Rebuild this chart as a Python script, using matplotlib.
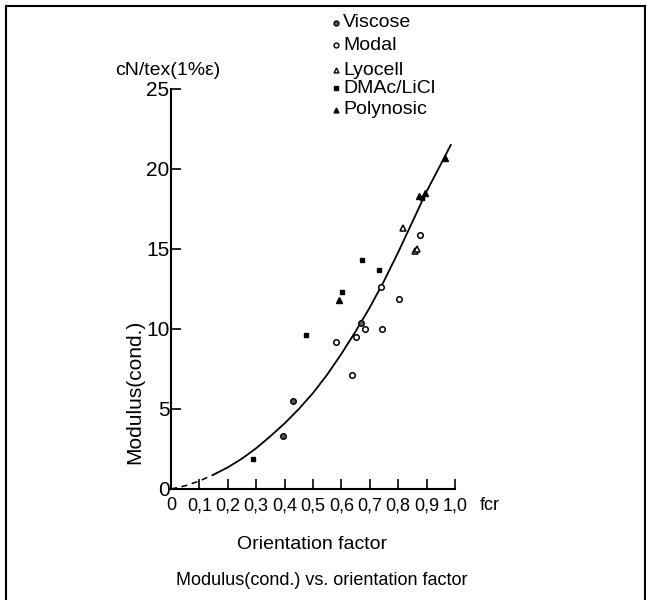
import matplotlib
matplotlib.use("Agg")
import matplotlib.pyplot as plt
from matplotlib.lines import Line2D

plt.rcParams['font.family'] = ['Liberation Sans', 'DejaVu Sans']

# measured points per fibre type (orientation factor fcr, modulus cN/tex)
viscose_x = [0.395, 0.428, 0.670]
viscose_y = [3.3, 5.5, 10.4]
modal_x = [0.581, 0.639, 0.650, 0.684, 0.742, 0.738, 0.803, 0.877]
modal_y = [9.2, 7.1, 9.5, 10.0, 10.0, 12.6, 11.9, 15.9]
lyocell_x = [0.818, 0.859, 0.866]
lyocell_y = [16.3, 14.9, 15.0]
dmac_x = [0.289, 0.477, 0.603, 0.674, 0.733, 0.885]
dmac_y = [1.9, 9.6, 12.3, 14.3, 13.7, 18.2]
polynosic_x = [0.590, 0.872, 0.895, 0.965]
polynosic_y = [11.8, 18.3, 18.5, 20.7]

# trend curve, dashed near the origin
curve_x = [0, 0.05, 0.10, 0.15, 0.20, 0.25, 0.30, 0.35, 0.40, 0.45, 0.50,
           0.55, 0.60, 0.65, 0.70, 0.75, 0.80, 0.85, 0.90, 0.95, 0.985]
curve_y = [0, 0.2, 0.5, 0.9, 1.35, 1.9, 2.55, 3.3, 4.1, 5.0, 6.0,
           7.15, 8.45, 9.85, 11.35, 13.0, 14.8, 16.7, 18.6, 20.3, 21.5]
n_dash = 4

x_ticks = [0, 0.1, 0.2, 0.3, 0.4, 0.5, 0.6, 0.7, 0.8, 0.9, 1.0]
x_labels = ['0', '0,1', '0,2', '0,3', '0,4', '0,5', '0,6', '0,7', '0,8', '0,9', '1,0']
y_ticks = [0, 5, 10, 15, 20, 25]

fig = plt.figure(figsize=(6.47, 6.0), dpi=100)

# frame round the figure
fig.add_artist(Line2D([0.009, 0.009], [0, 0.99], color='black', lw=1.5))
fig.add_artist(Line2D([0.997, 0.997], [0, 0.99], color='black', lw=1.5))
fig.add_artist(Line2D([0.009, 0.997], [0.99, 0.99], color='black', lw=1.5))

ax = fig.add_axes([0.2643, 0.185, 0.439, 0.6667])
ax.set_xlim(0, 1.0)
ax.set_ylim(0, 25)
for side in ['top', 'right']:
    ax.spines[side].set_visible(False)
for side in ['left', 'bottom']:
    ax.spines[side].set_linewidth(1.5)

ax.set_xticks(x_ticks)
ax.set_xticklabels(x_labels)
ax.set_yticks(y_ticks)
ax.tick_params(direction='in', length=7, width=1.2, labelsize=13, pad=6)
ax.tick_params(axis='y', labelsize=15, pad=1)

ax.plot(curve_x[:n_dash], curve_y[:n_dash], color='black', lw=1.1, ls=(0, (4, 3)))
ax.plot(curve_x[n_dash - 1:], curve_y[n_dash - 1:], color='black', lw=1.3)

ms = 4
ax.plot(viscose_x, viscose_y, 'o', ms=ms, mfc='0.35', mec='black', mew=1, ls='none')
ax.plot(modal_x, modal_y, 'o', ms=ms, mfc='white', mec='black', mew=1.1, ls='none')
ax.plot(lyocell_x, lyocell_y, '^', ms=ms, mfc='white', mec='black', mew=1.1, ls='none')
ax.plot(dmac_x, dmac_y, 's', ms=3.5, mfc='black', mec='black', ls='none')
ax.plot(polynosic_x, polynosic_y, '^', ms=ms, mfc='black', mec='black', ls='none')

# axis titles and units
fig.text(0.178, 0.883, 'cN/tex(1%ε)', fontsize=14, ha='left', va='center')
fig.text(0.209, 0.347, 'Modulus(cond.)', fontsize=15, rotation=90, ha='center', va='center')
fig.text(0.757, 0.158, 'fcr', fontsize=13, ha='center', va='center')
fig.text(0.483, 0.092, 'Orientation factor', fontsize=14, ha='center', va='center')
fig.text(0.497, 0.032, 'Modulus(cond.) vs. orientation factor', fontsize=13,
         ha='center', va='center')

# legend column above the plot
legend_rows = [
    ('o', '0.35', 'Viscose'),
    ('o', 'white', 'Modal'),
    ('^', 'white', 'Lyocell'),
    ('s', 'black', 'DMAc/LiCl'),
    ('^', 'black', 'Polynosic'),
]
row_y = [0.962, 0.925, 0.883, 0.853, 0.817]
for (mk, fc, name), yy in zip(legend_rows, row_y):
    fig.add_artist(Line2D([0.519], [yy], marker=mk, ms=3.5, mfc=fc, mec='black',
                          mew=1, ls='none'))
    fig.text(0.530, yy, name, fontsize=14, ha='left', va='center')

fig.savefig('out.png', dpi=100)
